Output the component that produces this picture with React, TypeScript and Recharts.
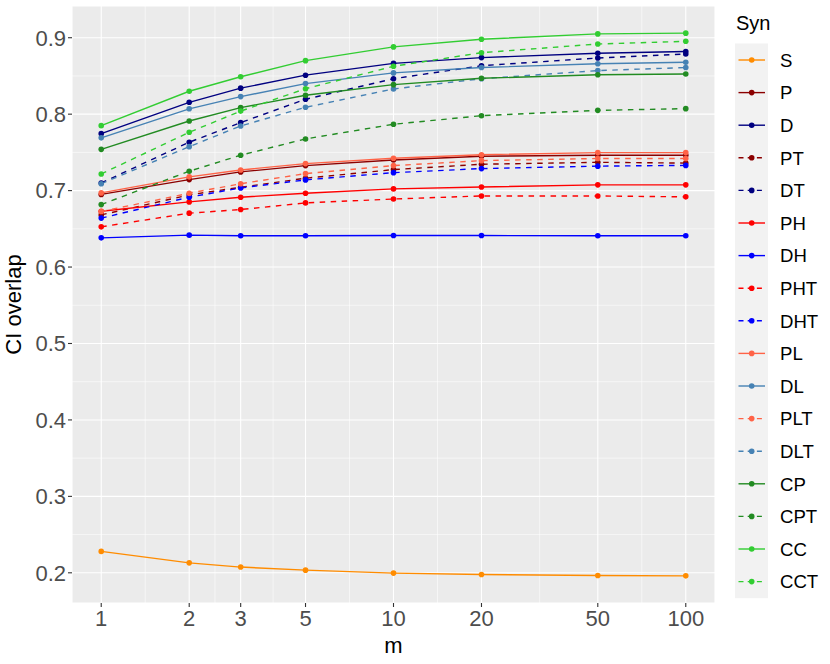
import { CartesianGrid, Line, LineChart, XAxis, YAxis } from 'recharts';

const mValues = [1, 2, 3, 5, 10, 20, 50, 100];
const yTicks = [0.2, 0.3, 0.4, 0.5, 0.6, 0.7, 0.8, 0.9];
const yMinor = [0.25, 0.35, 0.45, 0.55, 0.65, 0.75, 0.85];

const S = [0.228, 0.213, 0.2075, 0.2035, 0.1996, 0.1978, 0.1965, 0.196];
const P = [0.695, 0.7144, 0.7245, 0.7327, 0.74, 0.745, 0.7463, 0.7463];
const D = [0.7745, 0.8155, 0.834, 0.851, 0.8665, 0.874, 0.8796, 0.882];
const PT = [0.6682, 0.6944, 0.7044, 0.7162, 0.7275, 0.7345, 0.737, 0.736];
const DT = [0.71, 0.7633, 0.789, 0.8195, 0.8464, 0.8634, 0.8735, 0.8787];
const PH = [0.673, 0.6852, 0.6914, 0.6966, 0.7022, 0.7048, 0.7075, 0.7075];
const DH = [0.6382, 0.6417, 0.641, 0.641, 0.6413, 0.6412, 0.641, 0.641];
const PHT = [0.6526, 0.6705, 0.6752, 0.6839, 0.689, 0.693, 0.693, 0.6918];
const DHT = [0.664, 0.6914, 0.7035, 0.714, 0.7235, 0.7288, 0.732, 0.733];
const PL = [0.697, 0.718, 0.727, 0.7353, 0.7423, 0.747, 0.7497, 0.7497];
const DL = [0.769, 0.807, 0.823, 0.84, 0.854, 0.861, 0.866, 0.868];
const PLT = [0.6726, 0.6966, 0.709, 0.7222, 0.7327, 0.7392, 0.742, 0.742];
const DLT = [0.709, 0.7575, 0.7846, 0.809, 0.833, 0.8464, 0.857, 0.861];
const CP = [0.754, 0.791, 0.8085, 0.8247, 0.8386, 0.847, 0.8516, 0.8525];
const CPT = [0.6817, 0.7254, 0.7463, 0.7676, 0.7868, 0.798, 0.805, 0.8072];
const CC = [0.785, 0.83, 0.849, 0.87, 0.888, 0.898, 0.905, 0.906];
const CCT = [0.7218, 0.7763, 0.804, 0.8333, 0.8626, 0.8804, 0.8918, 0.8953];

type Series = { key: string; values: number[]; color: string; dashed: boolean };

const series: Series[] = [
  { key: 'S', values: S, color: '#FF8C00', dashed: false },
  { key: 'P', values: P, color: '#8B0000', dashed: false },
  { key: 'D', values: D, color: '#000080', dashed: false },
  { key: 'PT', values: PT, color: '#8B0000', dashed: true },
  { key: 'DT', values: DT, color: '#000080', dashed: true },
  { key: 'PH', values: PH, color: '#FF0000', dashed: false },
  { key: 'DH', values: DH, color: '#0000FF', dashed: false },
  { key: 'PHT', values: PHT, color: '#FF0000', dashed: true },
  { key: 'DHT', values: DHT, color: '#0000FF', dashed: true },
  { key: 'PL', values: PL, color: '#FF6347', dashed: false },
  { key: 'DL', values: DL, color: '#4682B4', dashed: false },
  { key: 'PLT', values: PLT, color: '#FF6347', dashed: true },
  { key: 'DLT', values: DLT, color: '#4682B4', dashed: true },
  { key: 'CP', values: CP, color: '#228B22', dashed: false },
  { key: 'CPT', values: CPT, color: '#228B22', dashed: true },
  { key: 'CC', values: CC, color: '#32CD32', dashed: false },
  { key: 'CCT', values: CCT, color: '#32CD32', dashed: true }
];

const chartData = mValues.map((m, i) => {
  const row: Record<string, number> = { m };
  series.forEach((s) => {
    row[s.key] = s.values[i];
  });
  return row;
});

// minor breaks sit halfway between major breaks in log space
const xMinor = mValues.slice(1).map((v, i) => Math.sqrt(v * mValues[i]));

const FONT = '"Liberation Sans", Arial, Helvetica, sans-serif';
const W = 830;
const H = 664;

function LegendPanel() {
  const top = 60;
  const step = 32.6;
  return (
    <svg width={W} height={H} style={{ position: 'absolute', left: 0, top: 0, pointerEvents: 'none' }}>
      <text x={736} y={29.5} fontSize={20} fontFamily={FONT} fill="#000">Syn</text>
      <rect x={735} y={43.5} width={33} height={step * series.length + 0.5} fill="#F2F2F2" />
      {series.map((s, i) => {
        const cy = top + i * step;
        return (
          <g key={s.key}>
            <line
              x1={738.5}
              x2={765}
              y1={cy}
              y2={cy}
              stroke={s.color}
              strokeWidth={1.4}
              strokeDasharray={s.dashed ? '5 4.2' : undefined}
            />
            <circle cx={751.7} cy={cy} r={2.8} fill={s.color} />
            <text x={780} y={cy + 6.7} fontSize={18.6} fontFamily={FONT} fill="#000">
              {s.key}
            </text>
          </g>
        );
      })}
    </svg>
  );
}

export default function App() {
  return (
    <div style={{ position: 'absolute', left: 0, top: 0, width: W, height: H, background: '#fff' }}>
      <LineChart
        width={W}
        height={H}
        data={chartData}
        margin={{ top: 6, right: 115, left: 12, bottom: 21 }}
      >
        <CartesianGrid
          fill="#EBEBEB"
          stroke="#FFFFFF"
          strokeWidth={0.55}
          horizontalValues={yMinor}
          verticalValues={xMinor}
        />
        <CartesianGrid stroke="#FFFFFF" strokeWidth={1.1} />
        <XAxis
          dataKey="m"
          type="number"
          scale="log"
          domain={[Math.pow(10, -0.1), Math.pow(10, 2.1)]}
          allowDataOverflow
          ticks={mValues}
          interval={0}
          height={40}
          axisLine={false}
          tickLine={{ stroke: '#333333', strokeWidth: 1.1 }}
          tickSize={4}
          tickMargin={3}
          tick={{ fill: '#4D4D4D', fontSize: 22, fontFamily: FONT }}
          label={({ viewBox }: any) => (
            <text
              x={viewBox.x + viewBox.width / 2}
              y={652.5}
              textAnchor="middle"
              fontSize={22}
              fontFamily={FONT}
              fill="#000"
            >
              m
            </text>
          )}
        />
        <YAxis
          type="number"
          domain={[0.1605, 0.9415]}
          allowDataOverflow
          ticks={yTicks}
          interval={0}
          width={60}
          axisLine={false}
          tickLine={{ stroke: '#333333', strokeWidth: 1.1 }}
          tickSize={4}
          tickMargin={2}
          tickFormatter={(v: number) => v.toFixed(1)}
          tick={{ fill: '#4D4D4D', fontSize: 22, fontFamily: FONT }}
          label={({ viewBox }: any) => {
            const cx = 21;
            const cy = viewBox.y + viewBox.height / 2;
            return (
              <text
                x={cx}
                y={cy}
                transform={`rotate(-90 ${cx} ${cy})`}
                textAnchor="middle"
                fontSize={22}
                fontFamily={FONT}
                fill="#000"
              >
                CI overlap
              </text>
            );
          }}
        />
        {series.map((s) => (
          <Line
            key={s.key}
            type="linear"
            dataKey={s.key}
            stroke={s.color}
            strokeWidth={1.4}
            strokeDasharray={s.dashed ? '5.5 5.5' : undefined}
            dot={{ r: 2.8, fill: s.color, stroke: 'none', strokeDasharray: undefined }}
            activeDot={false}
            isAnimationActive={false}
          />
        ))}
      </LineChart>
      <LegendPanel />
    </div>
  );
}
